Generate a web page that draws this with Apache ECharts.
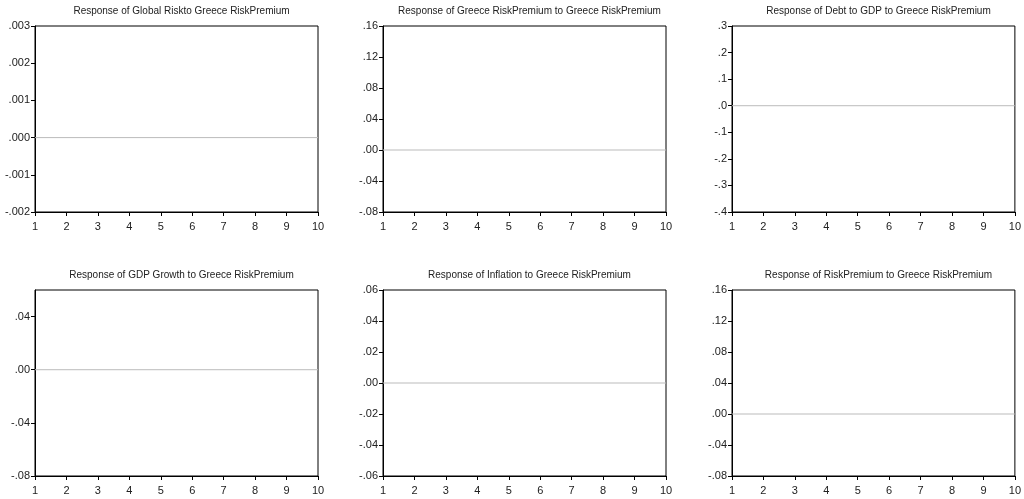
<!DOCTYPE html>
<html>
<head>
<meta charset="utf-8">
<script src="https://cdn.jsdelivr.net/npm/echarts@6/dist/echarts.min.js"></script>
<style>html,body{margin:0;padding:0;background:#fff}#c{width:1024px;height:499px}</style>
</head>
<body>
<div id="c"></div>
<script>
var titles = [
	'Response of Global Riskto Greece RiskPremium',
	'Response of Greece RiskPremium to Greece RiskPremium',
	'Response of Debt to GDP to Greece RiskPremium',
	'Response of GDP Growth to Greece RiskPremium',
	'Response of Inflation to Greece RiskPremium',
	'Response of RiskPremium to Greece RiskPremium'
];
var yMin = [-0.002, -0.08, -0.4, -0.08, -0.06, -0.08];
var yMax = [0.003, 0.16, 0.3, 0.06, 0.06, 0.16];
var yStep = [0.001, 0.04, 0.1, 0.04, 0.02, 0.04];
var yDec = [3, 2, 1, 2, 2, 2];
var zeroLine = [0, 0, 0, 0, 0, 0];
var periods = [1, 10];

var lefts = [35, 383, 732];
var tops = [26, 290];
var w = 283, h = 186;

var chart = echarts.init(document.getElementById('c'));
var grid = [], xAxis = [], yAxis = [], series = [], title = [];
titles.forEach(function (t, i) {
	var l = lefts[i % 3], tp = tops[Math.floor(i / 3)];
	grid.push({left: l, top: tp, width: w, height: h, show: true, borderColor: '#000', borderWidth: 1, backgroundColor: '#fff'});
	title.push({text: t, left: l + w / 2, top: tp - 25, textAlign: 'center',
		textStyle: {fontFamily: 'Liberation Sans', fontSize: 10, fontWeight: 'normal', color: '#222'}});
	xAxis.push({type: 'value', gridIndex: i, min: periods[0], max: periods[1], interval: 1,
		axisLine: {onZero: false, lineStyle: {color: '#000'}}, axisTick: {length: 4, lineStyle: {color: '#000'}},
		splitLine: {show: false},
		axisLabel: {color: '#222', fontSize: 11, fontFamily: 'Liberation Sans', margin: 9}});
	yAxis.push({type: 'value', gridIndex: i, min: yMin[i], max: yMax[i], interval: yStep[i],
		axisLine: {show: true, onZero: false, lineStyle: {color: '#000'}}, axisTick: {show: true, length: 4, lineStyle: {color: '#000'}},
		splitLine: {show: false},
		axisLabel: {color: '#222', fontSize: 11, fontFamily: 'Liberation Sans', margin: 5, showMaxLabel: i !== 3,
			formatter: (function (d) { return function (v) { return v.toFixed(d).replace('0.', '.'); }; })(yDec[i])}});
	series.push({type: 'line', xAxisIndex: i, yAxisIndex: i, symbol: 'none', silent: true,
		data: [[periods[0], zeroLine[i]], [periods[1], zeroLine[i]]],
		lineStyle: {color: '#bbb', width: 1}});
});
chart.setOption({animation: false, title: title, grid: grid, xAxis: xAxis, yAxis: yAxis, series: series});
</script>
</body>
</html>
